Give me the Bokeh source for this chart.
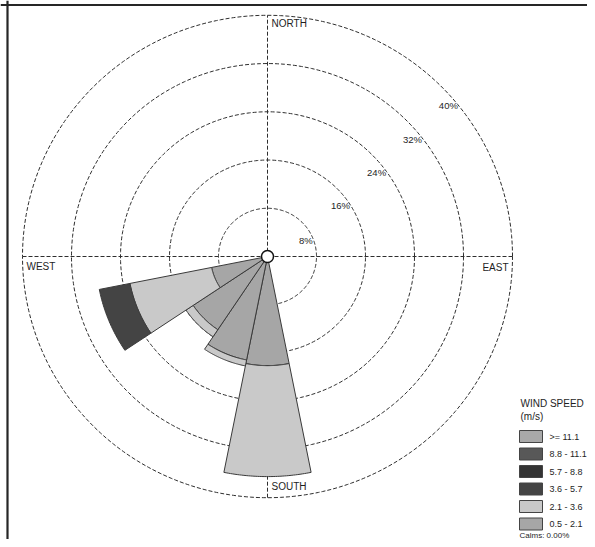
import numpy as np
from bokeh.plotting import figure
from bokeh.models import Range1d, Span
from bokeh.core.properties import value
from bokeh.embed import file_html
from bokeh.resources import INLINE

# ---------------- data ----------------
directions = ["S", "SSW", "SW", "WSW"]
bearings = [180.0, 202.5, 225.0, 247.5]          # degrees clockwise from north
speed_bins = ["0.5 - 2.1", "2.1 - 3.6", "3.6 - 5.7", "5.7 - 8.8", "8.8 - 11.1", ">= 11.1"]
freq_0_5_2_1 = [18.1, 17.5, 14.6, 9.3]           # % per direction
freq_2_1_3_6 = [18.4, 1.0, 1.4, 13.6]
freq_3_6_5_7 = [0.0, 0.0, 0.0, 5.1]
freq_5_7_8_8 = [0.0, 0.0, 0.0, 0.0]
freq_8_8_11_1 = [0.0, 0.0, 0.0, 0.0]
freq_11_1 = [0.0, 0.0, 0.0, 0.0]
ring_values = [8, 16, 24, 32, 40]
ring_labels = ["8%", "16%", "24%", "32%", "40%"]
compass_labels = ["NORTH", "EAST", "SOUTH", "WEST"]
legend_title = ["WIND SPEED", "(m/s)"]
calms_text = "Calms: 0.00%"
bin_colors = ["#a6a6a6", "#c9c9c9", "#444444", "#343434", "#585858", "#a9a9a9"]

series = [freq_0_5_2_1, freq_2_1_3_6, freq_3_6_5_7, freq_5_7_8_8, freq_8_8_11_1, freq_11_1]

# ---------------- layout ----------------
W, H = 587, 539
CX, CY = 267, 256        # centre of the rose in figure pixels
SX, SY = 6.125, 6.03     # pixels per percent
R = ring_values[-1]
FONT = value("Liberation Sans")
TXT = "#1e1e1e"

x_range = Range1d(-CX / SX, (W - CX) / SX)
y_range = Range1d(-(H - CY) / SY, CY / SY)


def px(xpix):
    return -CX / SX + xpix / SX


def py(ypix):
    return CY / SY - ypix / SY


p = figure(width=W, height=H, x_range=x_range, y_range=y_range,
           output_backend="svg", toolbar_location=None,
           x_axis_type=None, y_axis_type=None, min_border=0)
p.grid.visible = False
p.outline_line_color = None
p.background_fill_color = "white"
p.border_fill_color = "white"

# frame lines (top and left of the cropped panel)
p.add_layout(Span(location=py(4.5), dimension="width",
                  line_color="#262626", line_width=2.2))
p.add_layout(Span(location=px(7), dimension="height",
                  line_color="#262626", line_width=2.2))

# rings
t = np.linspace(0, 2 * np.pi, 361)
p.multi_line(xs=[list(v * np.cos(t)) for v in ring_values],
             ys=[list(v * np.sin(t)) for v in ring_values],
             line_color="#2e2e2e", line_width=1, line_dash="4 2")
# cross
p.multi_line(xs=[[-R, R], [0, 0]], ys=[[0, 0], [-R, R]],
             line_color="#2e2e2e", line_width=1, line_dash="4 2")

# petals
half = 11.25
xs, ys, cols = [], [], []
cum = np.zeros(len(directions))
for k, vals in enumerate(series):
    for i, b in enumerate(bearings):
        v = vals[i]
        if v <= 0:
            continue
        r0, r1 = cum[i], cum[i] + v
        a = np.radians(np.linspace(b - half, b + half, 40))
        ox, oy = r1 * np.sin(a), r1 * np.cos(a)
        ix, iy = r0 * np.sin(a[::-1]), r0 * np.cos(a[::-1])
        xs.append(list(np.concatenate([ox, ix])))
        ys.append(list(np.concatenate([oy, iy])))
        cols.append(bin_colors[k])
    cum += np.array(vals)
p.patches(xs=xs, ys=ys, fill_color=cols, line_color="#3a3a3a", line_width=1)

# centre circle
p.scatter(x=[0], y=[0], marker="circle", size=12, fill_color="white",
          line_color="#111111", line_width=1.5)

# ring labels along a slanted line, ending on each ring
m, c = 0.94, -4.4
aa = 1 + m * m
lx, ly = [], []
for v in ring_values:
    x = (-m * c + np.sqrt((m * c) ** 2 - aa * (c * c - v * v))) / aa
    lx.append(x)
    ly.append(m * x + c)
p.text(x=lx, y=ly, text=ring_labels, text_align="right", text_baseline="middle",
       x_offset=-1, text_font=FONT, text_font_size="9.5px", text_color=TXT)

# compass labels
p.text(x=[0], y=[R], text=[compass_labels[0]], text_align="left", text_baseline="middle",
       x_offset=4, y_offset=8, text_font=FONT, text_font_size="10px", text_color=TXT)
p.text(x=[0], y=[-R], text=[compass_labels[2]], text_align="left", text_baseline="middle",
       x_offset=4, y_offset=-11, text_font=FONT, text_font_size="10px", text_color=TXT)
p.text(x=[-R], y=[0], text=[compass_labels[3]], text_align="left", text_baseline="middle",
       x_offset=4, y_offset=10, text_font=FONT, text_font_size="10px", text_color=TXT)
p.text(x=[R], y=[0], text=[compass_labels[1]], text_align="right", text_baseline="middle",
       x_offset=-4, y_offset=11, text_font=FONT, text_font_size="10px", text_color=TXT)

# legend (shifted slightly left so every text fits inside the figure)
LX = 519
p.text(x=[px(LX + 1), px(LX + 1)], y=[py(403), py(416)], text=legend_title,
       text_align="left", text_baseline="middle", text_font=FONT,
       text_font_size="10px", text_color=TXT)
order = list(range(len(speed_bins)))[::-1]
box_y = [py(436 + 17.5 * j) for j in range(len(order))]
p.rect(x=[px(LX + 11.5)] * len(order), y=box_y, width=23 / SX, height=12 / SY,
       fill_color=[bin_colors[k] for k in order], line_color="#444444", line_width=1)
p.text(x=[px(LX + 30)] * len(order), y=box_y, text=[speed_bins[k] for k in order],
       text_align="left", text_baseline="middle", text_font=FONT,
       text_font_size="9px", text_color=TXT)
p.text(x=[px(LX)], y=[py(534.5)], text=[calms_text], text_align="left",
       text_baseline="middle", text_font=FONT, text_font_size="8px", text_color=TXT)

open("out.html", "w").write(file_html(p, INLINE))
